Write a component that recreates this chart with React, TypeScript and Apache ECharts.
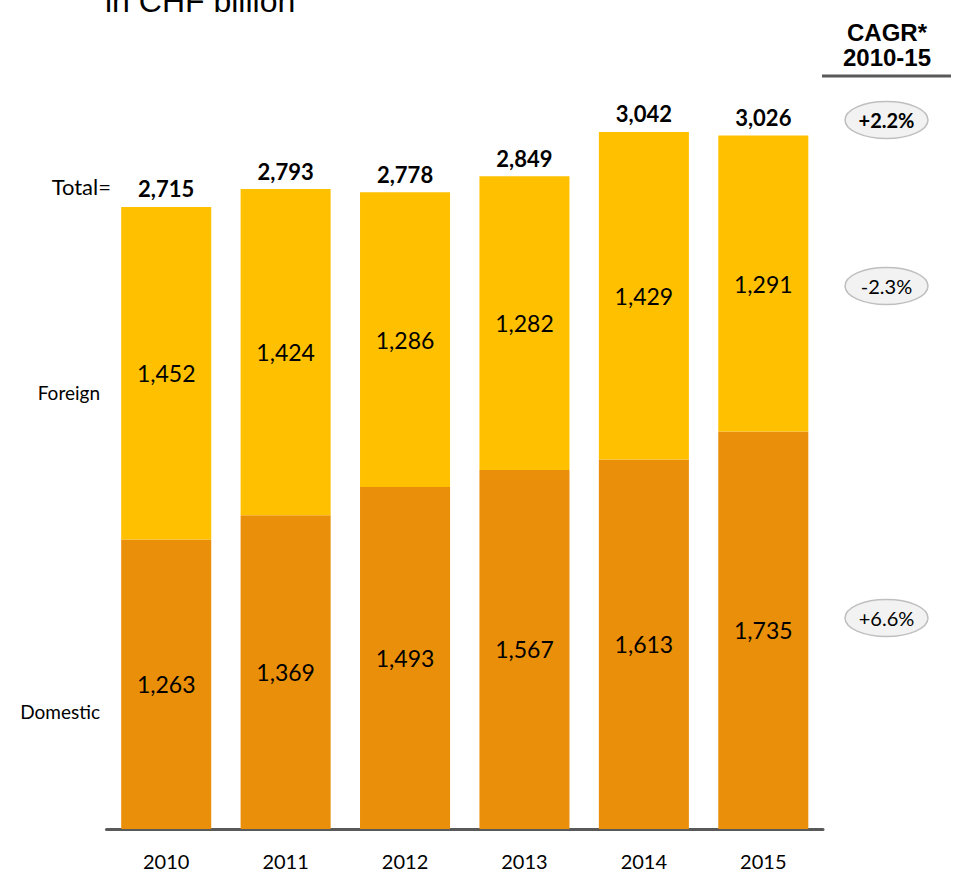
import React, { useEffect, useRef } from "react";
import * as echarts from "echarts";

const years = ["2010", "2011", "2012", "2013", "2014", "2015"];
const domestic = [1263, 1369, 1493, 1567, 1613, 1735];
const foreign = [1452, 1424, 1286, 1282, 1429, 1291];
const totals = [2715, 2793, 2778, 2849, 3042, 3026];
const cagrLabels = ["+2.2%", "-2.3%", "+6.6%"];

const fmt = (v: number) => v.toLocaleString("en-US");
const NUM_FONT = "Lato, 'Open Sans', sans-serif";
const HEAD_FONT = "'Liberation Sans', Arial, sans-serif";

export default function App() {
  const ref = useRef<HTMLDivElement>(null);
  useEffect(() => {
    document.body.style.margin = "0";
    if (!ref.current) return;
    const chart = echarts.init(ref.current, null, { renderer: "svg" });
    const ellipse = (cy: number, text: string, bold: boolean, size: number) => [
      {
        type: "ellipse",
        shape: { cx: 886.5, cy, rx: 41.5, ry: 18.5 },
        style: { fill: "#f2f2f2", stroke: "#bfbfbf", lineWidth: 1.5 },
      },
      {
        type: "text",
        x: 886.5,
        y: cy,
        style: {
          text,
          fill: "#000",
          font: `${bold ? "bold " : ""}${size}px ${NUM_FONT}`,
          align: "center",
          verticalAlign: "middle",
        },
      },
    ];
    chart.setOption({
      animation: false,
      grid: {
        left: 106.5,
        right: 134,
        top: 27,
        bottom: 47,
        containLabel: false,
        outerBoundsMode: "none",
      },
      xAxis: {
        type: "category",
        data: years,
        axisLine: { lineStyle: { color: "#595959", width: 3 } },
        axisTick: { show: false },
        axisLabel: { color: "#000", fontSize: 20, fontFamily: NUM_FONT, margin: 22 },
      },
      yAxis: {
        type: "value",
        min: 0,
        max: 3500,
        show: false,
        splitLine: { show: false },
      },
      series: [
        {
          name: "Domestic",
          type: "bar",
          stack: "t",
          data: domestic,
          barCategoryGap: "24.6%",
          itemStyle: { color: "#EA8F09" },
          label: {
            show: true,
            position: "inside",
            color: "#000",
            fontSize: 23,
            fontFamily: NUM_FONT,
            formatter: (p: any) => fmt(p.value),
          },
        },
        {
          name: "Foreign",
          type: "bar",
          stack: "t",
          data: foreign,
          itemStyle: { color: "#FFC000" },
          label: {
            show: true,
            position: "inside",
            color: "#000",
            fontSize: 23,
            fontFamily: NUM_FONT,
            formatter: (p: any) => fmt(p.value),
          },
        },
        {
          name: "Total",
          type: "line",
          data: totals,
          symbol: "circle",
          symbolSize: 0,
          itemStyle: { color: "transparent" },
          lineStyle: { opacity: 0 },
          label: {
            show: true,
            position: "top",
            distance: 7,
            color: "#000",
            fontSize: 22,
            fontWeight: "bold",
            fontFamily: NUM_FONT,
            formatter: (p: any) => fmt(p.value),
          },
        },
      ],
      graphic: [
        {
          type: "text",
          x: 105,
          y: 1,
          style: {
            text: "in CHF billion",
            fill: "#000",
            font: `32px ${HEAD_FONT}`,
            align: "left",
            verticalAlign: "middle",
          },
        },
        {
          type: "text",
          x: 111,
          y: 186,
          style: {
            text: "Total=",
            fill: "#000",
            font: `22px ${NUM_FONT}`,
            align: "right",
            verticalAlign: "middle",
          },
        },
        {
          type: "text",
          x: 100,
          y: 392,
          style: {
            text: "Foreign",
            fill: "#000",
            font: `19px ${NUM_FONT}`,
            align: "right",
            verticalAlign: "middle",
          },
        },
        {
          type: "text",
          x: 100,
          y: 711,
          style: {
            text: "Domestic",
            fill: "#000",
            font: `19px ${NUM_FONT}`,
            align: "right",
            verticalAlign: "middle",
          },
        },
        {
          type: "text",
          x: 887,
          y: 45,
          style: {
            text: "CAGR*\n2010-15",
            fill: "#000",
            font: `bold 24px ${HEAD_FONT}`,
            lineHeight: 25,
            align: "center",
            verticalAlign: "middle",
          },
        },
        {
          type: "line",
          shape: { x1: 822, y1: 76, x2: 951, y2: 76 },
          style: { stroke: "#595959", lineWidth: 3 },
        },
        ...ellipse(120, cagrLabels[0], true, 20),
        ...ellipse(286, cagrLabels[1], false, 20),
        ...ellipse(618, cagrLabels[2], false, 20),
      ],
    });
    return () => chart.dispose();
  }, []);
  return <div ref={ref} style={{ width: 957, height: 876 }} />;
}
